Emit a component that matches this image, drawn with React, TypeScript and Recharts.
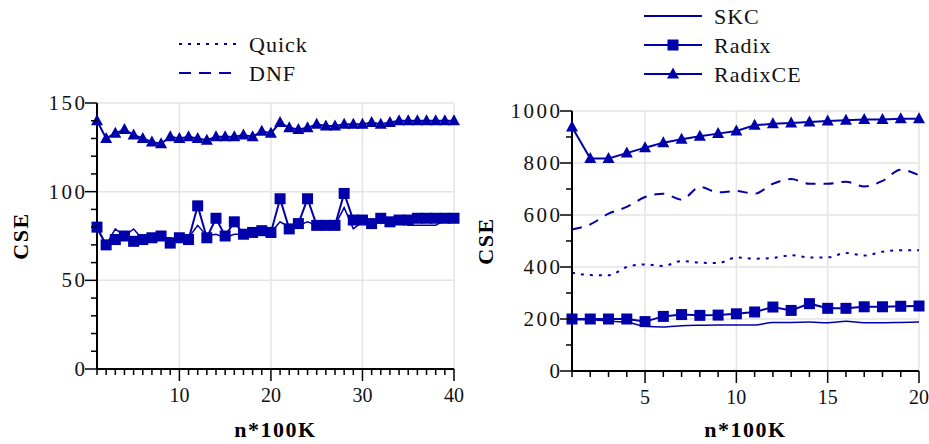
import { LineChart, Line, XAxis, YAxis, ReferenceLine } from 'recharts'

const BLUE = '#0000aa'
const FONT = '"Liberation Serif", "Times New Roman", serif'

// left panel: n = 1..40
const leftN = Array.from({ length: 40 }, (_, i) => i + 1)
const leftSKC = [79, 70, 79, 75, 79, 73, 73, 74, 74, 73, 74, 81, 75, 76, 74, 76, 76, 77, 77, 77,
  83, 80, 81, 83, 81, 81, 81, 91, 79, 83, 83, 82, 83, 83, 81, 81, 81, 81, 84, 84]
const leftRadix = [80, 70, 73, 75, 72, 73, 74, 75, 71, 74, 73, 92, 74, 85, 75, 83, 76, 77, 78, 77,
  96, 79, 82, 96, 81, 81, 81, 99, 84, 84, 82, 85, 83, 84, 84, 85, 85, 85, 85, 85]
const leftRadixCE = [140, 130, 133, 135, 132, 130, 128, 127, 131, 130, 131, 130, 129, 131, 131, 131, 132, 131, 134, 133,
  139, 136, 135, 136, 138, 137, 137, 138, 138, 138, 139, 138, 139, 140, 140, 140, 140, 140, 140, 140]

// right panel: n = 1..20
const rightN = Array.from({ length: 20 }, (_, i) => i + 1)
const rightQuick = [378, 369, 368, 400, 410, 404, 423, 417, 415, 437, 432, 435, 445, 437, 437, 454, 444, 459, 464, 464]
const rightDNF = [544, 564, 605, 631, 669, 682, 659, 708, 687, 692, 682, 720, 738, 720, 720, 728, 710, 731, 774, 753]
const rightSKC = [197, 197, 192, 188, 172, 169, 174, 176, 177, 177, 177, 187, 187, 188, 186, 191, 186, 186, 187, 188]
const rightRadix = [200, 200, 200, 200, 190, 210, 217, 214, 215, 220, 227, 246, 233, 259, 241, 241, 247, 247, 249, 250]
const rightRadixCE = [938, 817, 817, 838, 859, 878, 891, 903, 913, 923, 945, 951, 954, 958, 962, 964, 967, 967, 970, 970]

const leftXTicks = leftN
const leftYTicks = [0, 10, 20, 30, 40, 50, 60, 70, 80, 90, 100, 110, 120, 130, 140, 150]
const rightXTicks = rightN
const rightYTicks = [0, 100, 200, 300, 400, 500, 600, 700, 800, 900, 1000]

const leftData = leftN.map((n, i) => ({ n, SKC: leftSKC[i], Radix: leftRadix[i], RadixCE: leftRadixCE[i] }))
const rightData = rightN.map((n, i) => ({
  n, Quick: rightQuick[i], DNF: rightDNF[i], SKC: rightSKC[i], Radix: rightRadix[i], RadixCE: rightRadixCE[i],
}))

function Square(p: any) {
  const { cx, cy } = p
  if (cx == null || cy == null) return null
  return <rect key={`sq-${p.index}`} x={cx - 5.5} y={cy - 5.5} width={11} height={11} fill={BLUE} />
}

function Triangle(p: any) {
  const { cx, cy } = p
  if (cx == null || cy == null) return null
  return <polygon key={`tr-${p.index}`} points={`${cx},${cy - 6.5} ${cx + 6},${cy + 4.5} ${cx - 6},${cy + 4.5}`} fill={BLUE} />
}

function xTick(majorEvery: number) {
  return (props: any) => {
    const { x, y, payload } = props
    const v = payload.value
    const major = v % majorEvery === 0
    return (
      <g key={`xt-${v}`}>
        <line x1={x} y1={y} x2={x} y2={y + (major ? 12 : 6)} stroke="#000" strokeWidth={1.5} />
        {major && (
          <text x={x} y={y + 33} textAnchor="middle" fontSize={20} fontFamily={FONT} fill="#111">{v}</text>
        )}
      </g>
    )
  }
}

function yTick(majorEvery: number) {
  return (props: any) => {
    const { x, y, payload } = props
    const v = payload.value
    const major = v % majorEvery === 0
    return (
      <g key={`yt-${v}`}>
        <line x1={x - (major ? 12 : 6)} y1={y} x2={x} y2={y} stroke="#000" strokeWidth={1.5} />
        {major && (
          <text x={x - 9.5} y={y + 7} textAnchor="end" fontSize={21} letterSpacing={2.5} fontFamily={FONT} fill="#111">{v}</text>
        )}
      </g>
    )
  }
}

const axisLabelStyle = { fontWeight: 'bold', fontSize: 22, letterSpacing: 1.5, fill: '#000', fontFamily: FONT }
const gridStroke = '#e4e4e4'

function LegendBox({ x, y, entries }: { x: number; y: number; entries: { name: string; dash?: string; marker?: 'square' | 'triangle' }[] }) {
  return (
    <g>
      {entries.map((e, i) => {
        const ly = y + i * 29
        const mx = x + 29
        return (
          <g key={e.name}>
            <line x1={x} y1={ly} x2={x + 58} y2={ly} stroke={BLUE} strokeWidth={e.dash ? 2 : 1.8} strokeDasharray={e.dash} />
            {e.marker === 'square' && <rect x={mx - 5.5} y={ly - 5.5} width={11} height={11} fill={BLUE} />}
            {e.marker === 'triangle' && <polygon points={`${mx},${ly - 6.5} ${mx + 6},${ly + 4.5} ${mx - 6},${ly + 4.5}`} fill={BLUE} />}
            <text x={x + 70} y={ly + 7.5} fontSize={22} letterSpacing={1} fontFamily={FONT} fill="#111">{e.name}</text>
          </g>
        )
      })}
    </g>
  )
}

export default function App() {
  return (
    <div style={{ position: 'absolute', left: 0, top: 0, width: 929, height: 444, background: '#fff', fontFamily: FONT }}>
      <div style={{ position: 'absolute', left: 0, top: 0 }}>
        <LineChart width={470} height={444} data={leftData} margin={{ top: 103, right: 16, bottom: 7, left: 0 }}>
          {[10, 20, 30, 40].map((v) => (
            <ReferenceLine key={`gx${v}`} x={v} stroke={gridStroke} strokeWidth={1.5} />
          ))}
          {[50, 100, 150].map((v) => (
            <ReferenceLine key={`gy${v}`} y={v} stroke={gridStroke} strokeWidth={1.5} />
          ))}
          <XAxis
            dataKey="n" type="number" domain={[1, 40]} ticks={leftXTicks} interval={0}
            height={68} tickSize={0} tickMargin={0} tickLine={false}
            axisLine={{ stroke: '#000', strokeWidth: 2 }} tick={xTick(10)}
            label={{ value: 'n*100K', position: 'insideBottom', offset: 0, style: axisLabelStyle }}
          />
          <YAxis
            type="number" domain={[0, 150]} ticks={leftYTicks} interval={0}
            width={97} tickSize={0} tickMargin={0} tickLine={false}
            axisLine={{ stroke: '#000', strokeWidth: 2 }} tick={yTick(50)}
            label={{ value: 'CSE', angle: -90, position: 'insideLeft', offset: 20, style: { ...axisLabelStyle, textAnchor: 'middle' } }}
          />
          <Line dataKey="SKC" stroke={BLUE} strokeWidth={1.5} dot={false} isAnimationActive={false} />
          <Line dataKey="Radix" stroke={BLUE} strokeWidth={2} dot={Square} isAnimationActive={false} />
          <Line dataKey="RadixCE" stroke={BLUE} strokeWidth={2} dot={Triangle} isAnimationActive={false} />
        </LineChart>
      </div>
      <div style={{ position: 'absolute', left: 470, top: 0 }}>
        <LineChart width={459} height={444} data={rightData} margin={{ top: 111, right: 10, bottom: 7, left: 0 }}>
          {[5, 10, 15, 20].map((v) => (
            <ReferenceLine key={`gx${v}`} x={v} stroke={gridStroke} strokeWidth={1.5} />
          ))}
          {[200, 400, 600, 800, 1000].map((v) => (
            <ReferenceLine key={`gy${v}`} y={v} stroke={gridStroke} strokeWidth={1.5} />
          ))}
          <XAxis
            dataKey="n" type="number" domain={[1, 20]} ticks={rightXTicks} interval={0}
            height={66} tickSize={0} tickMargin={0} tickLine={false}
            axisLine={{ stroke: '#000', strokeWidth: 2 }} tick={xTick(5)}
            label={{ value: 'n*100K', position: 'insideBottom', offset: 0, style: axisLabelStyle }}
          />
          <YAxis
            type="number" domain={[0, 1000]} ticks={rightYTicks} interval={0}
            width={102} tickSize={0} tickMargin={0} tickLine={false}
            axisLine={{ stroke: '#000', strokeWidth: 2 }} tick={yTick(200)}
            label={{ value: 'CSE', angle: -90, position: 'insideLeft', offset: 15, style: { ...axisLabelStyle, textAnchor: 'middle' } }}
          />
          <Line dataKey="Quick" type="monotone" stroke={BLUE} strokeWidth={2} strokeDasharray="3 6" dot={false} isAnimationActive={false} />
          <Line dataKey="DNF" type="monotone" stroke={BLUE} strokeWidth={2} strokeDasharray="10 8" dot={false} isAnimationActive={false} />
          <Line dataKey="SKC" type="monotone" stroke={BLUE} strokeWidth={1.5} dot={false} isAnimationActive={false} />
          <Line dataKey="Radix" stroke={BLUE} strokeWidth={2} dot={Square} isAnimationActive={false} />
          <Line dataKey="RadixCE" stroke={BLUE} strokeWidth={2} dot={Triangle} isAnimationActive={false} />
        </LineChart>
      </div>
      <svg width={929} height={100} style={{ position: 'absolute', left: 0, top: 0, pointerEvents: 'none' }}>
        <LegendBox x={179} y={44} entries={[{ name: 'Quick', dash: '3 6' }, { name: 'DNF', dash: '12 8' }]} />
        <LegendBox
          x={644} y={16}
          entries={[{ name: 'SKC' }, { name: 'Radix', marker: 'square' }, { name: 'RadixCE', marker: 'triangle' }]}
        />
      </svg>
    </div>
  )
}
